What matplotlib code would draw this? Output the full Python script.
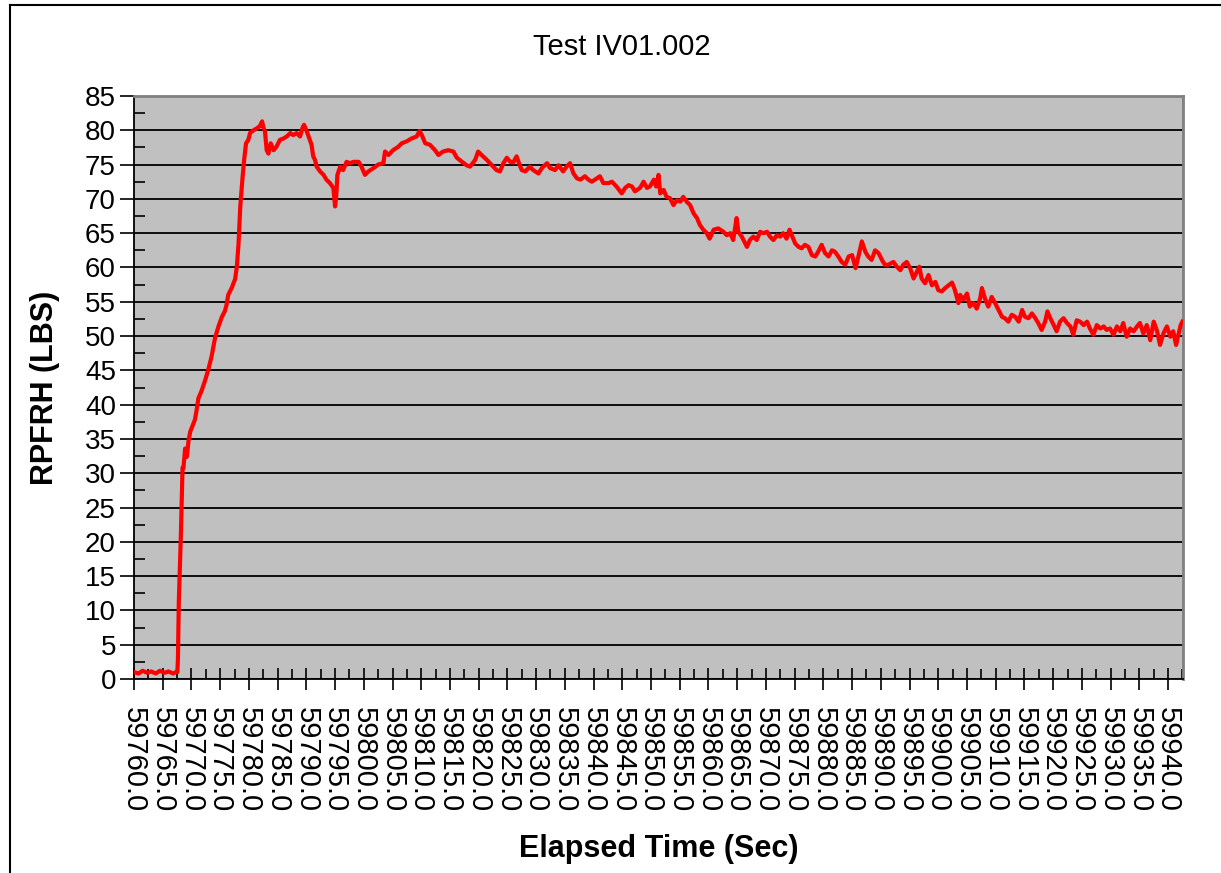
import numpy as np
import matplotlib
matplotlib.use("Agg")
import matplotlib.pyplot as plt
from matplotlib.lines import Line2D
from matplotlib.ticker import MultipleLocator, FormatStrFormatter

plt.rcParams['font.family'] = ['Liberation Sans', 'DejaVu Sans']

# elapsed time (s) and RPFRH load (lbs)
time_sec = [
    59760.0, 59760.8, 59761.5, 59762.3, 59763.0, 59763.8, 59764.5, 59765.3, 59766.0, 59766.8,
    59767.5, 59767.55, 59767.65, 59767.8, 59768.15, 59768.45, 59768.6, 59768.9, 59769.2, 59769.5,
    59769.8, 59770.0, 59770.6, 59770.9, 59771.2, 59771.8, 59772.4, 59772.9, 59773.5, 59774.1,
    59774.7, 59775.3, 59775.8, 59776.1, 59776.4, 59777.0, 59777.6, 59777.9, 59778.2, 59778.5,
    59778.9, 59779.2, 59779.5, 59779.9, 59780.2, 59780.8, 59781.4, 59781.9, 59782.3, 59782.5,
    59782.8, 59783.1, 59783.4, 59783.8, 59784.3, 59784.8, 59785.4, 59786.0, 59786.6, 59787.2,
    59787.7, 59788.3, 59788.9, 59789.4, 59789.6, 59790.1, 59790.6, 59790.9, 59791.2, 59791.5,
    59791.8, 59792.4, 59793.0, 59793.5, 59794.1, 59794.7, 59795.0, 59795.2, 59795.4, 59795.9,
    59796.4, 59797.0, 59797.6, 59798.2, 59799.1, 59799.6, 59800.2, 59800.8, 59801.7, 59802.5,
    59803.4, 59803.7, 59804.3, 59805.1, 59806.0, 59806.6, 59807.5, 59808.3, 59809.2, 59809.7,
    59810.1, 59810.7, 59811.5, 59812.4, 59813.0, 59813.3, 59813.8, 59814.7, 59815.6, 59816.2,
    59817.1, 59817.9, 59818.5, 59819.4, 59819.9, 59820.5, 59821.4, 59822.3, 59823.1, 59823.7,
    59824.3, 59824.9, 59825.5, 59826.0, 59826.6, 59827.1, 59827.5, 59828.1, 59828.9, 59829.5,
    59830.4, 59831.0, 59831.9, 59832.4, 59833.3, 59833.9, 59834.7, 59835.3, 59835.9, 59836.5,
    59837.1, 59837.7, 59838.5, 59839.1, 59839.7, 59840.6, 59841.1, 59841.7, 59842.6, 59843.2,
    59844.0, 59844.9, 59845.5, 59846.1, 59846.7, 59847.2, 59848.1, 59848.7, 59849.3, 59849.8,
    59850.5, 59850.9, 59851.3, 59851.6, 59852.2, 59852.7, 59853.3, 59853.9, 59854.5, 59855.1,
    59855.6, 59856.2, 59856.8, 59857.4, 59858.0, 59858.5, 59859.1, 59859.7, 59860.2, 59860.9,
    59861.7, 59862.6, 59863.2, 59863.8, 59864.3, 59864.9, 59865.2, 59865.8, 59866.7, 59867.2,
    59867.8, 59868.4, 59869.0, 59869.6, 59870.2, 59870.7, 59871.3, 59871.9, 59872.5, 59873.0,
    59873.6, 59874.1, 59874.5, 59875.1, 59875.7, 59876.2, 59876.8, 59877.4, 59878.0, 59878.6,
    59879.1, 59879.7, 59880.3, 59880.9, 59881.5, 59882.0, 59882.6, 59883.2, 59883.8, 59884.4,
    59885.0, 59885.6, 59886.1, 59886.7, 59887.3, 59887.8, 59888.4, 59889.0, 59889.6, 59890.2,
    59890.7, 59891.3, 59892.2, 59892.8, 59893.4, 59893.9, 59894.5, 59895.1, 59895.7, 59896.3,
    59896.7, 59897.1, 59897.7, 59898.3, 59898.9, 59899.5, 59900.0, 59900.6, 59901.2, 59901.8,
    59902.4, 59902.9, 59903.5, 59903.8, 59904.4, 59905.0, 59905.5, 59906.1, 59906.7, 59907.3,
    59907.6, 59908.2, 59908.7, 59909.3, 59909.9, 59910.5, 59911.1, 59911.6, 59912.2, 59912.8,
    59913.4, 59914.0, 59914.6, 59915.1, 59915.7, 59916.3, 59916.9, 59917.4, 59918.0, 59918.6,
    59919.0, 59919.5, 59920.1, 59920.6, 59921.2, 59921.8, 59922.4, 59923.0, 59923.5, 59924.1,
    59924.7, 59925.3, 59925.9, 59926.4, 59927.0, 59927.6, 59928.2, 59928.8, 59929.3, 59929.9,
    59930.5, 59931.1, 59931.7, 59932.2, 59932.8, 59933.4, 59934.0, 59934.6, 59935.1, 59935.7,
    59936.3, 59936.9, 59937.5, 59938.1, 59938.6, 59939.2, 59939.8, 59940.4, 59940.9, 59941.4,
    59941.8, 59942.2, 59942.5,
]
rpfrh_lbs = [
    1.0, 0.8, 1.2, 0.9, 1.1, 0.8, 1.2, 0.9, 1.1, 0.8,
    1.1, 1.0, 3.0, 11.3, 20.7, 30.8, 30.7, 33.6, 32.4, 34.8,
    36.1, 36.5, 37.8, 39.2, 40.9, 42.1, 43.6, 45.0, 47.0, 49.7,
    51.4, 52.8, 53.6, 54.5, 56.0, 57.0, 58.3, 60.1, 63.5, 68.9,
    73.2, 75.9, 78.1, 78.6, 79.6, 80.0, 80.3, 80.6, 81.3, 80.5,
    79.8, 77.1, 76.6, 78.1, 77.1, 77.6, 78.6, 78.8, 79.1, 79.6,
    79.3, 79.6, 79.1, 80.5, 80.8, 79.8, 78.6, 77.9, 76.2, 75.7,
    74.7, 74.0, 73.5, 72.8, 72.3, 71.6, 68.9, 70.3, 73.5, 74.7,
    74.2, 75.4, 75.2, 75.4, 75.4, 74.7, 73.5, 74.0, 74.5, 75.0,
    75.2, 76.9, 76.4, 77.1, 77.6, 78.1, 78.4, 78.8, 79.1, 79.9,
    79.3, 78.1, 77.9, 77.1, 76.4, 76.6, 76.9, 77.1, 76.9, 76.0,
    75.4, 74.9, 74.7, 75.7, 76.9, 76.4, 75.7, 74.9, 74.2, 74.0,
    75.2, 76.0, 75.4, 75.3, 76.2, 75.0, 74.2, 74.0, 74.7, 74.2,
    73.7, 74.5, 75.2, 74.5, 74.2, 74.9, 74.0, 74.7, 75.2, 73.7,
    73.0, 72.8, 73.3, 72.8, 72.5, 73.0, 73.3, 72.3, 72.3, 72.5,
    71.8, 70.8, 71.6, 72.0, 71.8, 71.1, 71.6, 72.5, 71.6, 71.8,
    72.8, 71.8, 73.5, 70.8, 71.3, 70.3, 70.1, 69.1, 69.8, 69.6,
    70.3, 69.6, 69.1, 67.9, 67.2, 66.2, 65.5, 65.0, 64.2, 65.5,
    65.7, 65.2, 64.7, 65.0, 64.0, 67.2, 65.2, 64.5, 63.0, 64.0,
    64.5, 64.0, 65.2, 65.0, 65.2, 64.5, 64.0, 64.7, 64.5, 65.0,
    64.2, 65.5, 64.7, 63.5, 63.0, 62.8, 63.3, 63.0, 61.8, 61.6,
    62.3, 63.3, 62.1, 61.6, 62.5, 62.3, 61.6, 60.8, 60.4, 61.6,
    61.8, 59.9, 61.6, 63.8, 62.3, 61.6, 61.1, 62.5, 62.1, 61.1,
    60.4, 60.4, 60.8, 60.1, 59.6, 60.4, 60.8, 59.9, 58.4, 59.4,
    60.1, 58.4, 57.7, 58.9, 57.4, 57.9, 56.7, 56.5, 57.0, 57.4,
    57.8, 56.7, 54.8, 56.0, 55.3, 56.2, 54.3, 54.8, 54.0, 55.5,
    57.0, 55.3, 54.3, 55.7, 54.8, 53.8, 52.8, 52.6, 52.1, 53.1,
    52.8, 52.1, 53.8, 52.8, 52.6, 53.3, 52.6, 51.9, 50.9, 52.1,
    53.6, 52.6, 51.6, 50.7, 52.1, 52.6, 51.9, 51.4, 50.2, 52.3,
    52.1, 51.6, 52.1, 51.1, 50.2, 51.6, 51.1, 51.4, 50.9, 51.1,
    50.2, 51.4, 50.7, 51.9, 49.9, 51.1, 50.7, 51.4, 51.9, 50.4,
    51.6, 49.4, 52.1, 50.7, 48.7, 50.4, 51.4, 49.9, 50.7, 48.7,
    50.2, 51.6, 52.1,
]

fig = plt.figure(figsize=(12.21, 8.73), dpi=100)
ax = fig.add_axes([134 / 1221, 1 - 679 / 873, (1183 - 134) / 1221, (679 - 96) / 873])

ax.set_facecolor('#c0c0c0')
ax.plot(time_sec, rpfrh_lbs, color='#ff0000', linewidth=3, zorder=3)

ax.set_xlim(59760, 59942.6)
ax.set_ylim(0, 85)

ax.xaxis.set_major_locator(MultipleLocator(5))
ax.xaxis.set_minor_locator(MultipleLocator(2.5))
ax.xaxis.set_major_formatter(FormatStrFormatter('%.1f'))
ax.yaxis.set_major_locator(MultipleLocator(5))
ax.yaxis.set_minor_locator(MultipleLocator(2.5))

ax.grid(axis='y', which='major', color='black', linewidth=1.3, zorder=1)
ax.set_axisbelow(True)

ax.tick_params(axis='x', which='major', direction='inout', length=16, width=1.2,
               labelsize=21, pad=12, labelrotation=270)
ax.tick_params(axis='x', which='minor', direction='in', length=7, width=1.2)
ax.tick_params(axis='y', which='major', direction='out', length=10, width=1.2,
               labelsize=20, pad=3)
ax.tick_params(axis='y', which='minor', direction='in', length=8, width=1.2)

for side in ['top', 'right']:
    ax.spines[side].set_color('#808080')
    ax.spines[side].set_linewidth(2)
for side in ['left', 'bottom']:
    ax.spines[side].set_color('black')
    ax.spines[side].set_linewidth(1.3)

ax.set_ylabel('RPFRH (LBS)', fontsize=22, fontweight='bold', labelpad=18)
ax.set_xlabel('Elapsed Time (Sec)', fontsize=22, fontweight='bold', labelpad=16)
fig.text(0.509, 1 - 47 / 873, 'Test IV01.002', fontsize=21, ha='center', va='center')

# chart frame (left and top edge visible)
fig.add_artist(Line2D([10 / 1221, 10 / 1221], [0, 1 - 5 / 873], color='black', linewidth=1.5))
fig.add_artist(Line2D([10 / 1221, 1], [1 - 5 / 873, 1 - 5 / 873], color='black', linewidth=1.5))

fig.savefig('out.png', dpi=100)
